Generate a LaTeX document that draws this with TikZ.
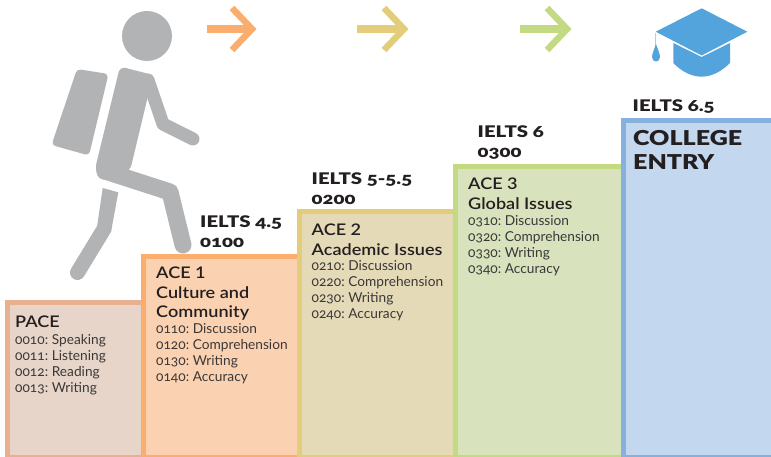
\documentclass[tikz,border=0pt]{standalone}
\usepackage{fontspec}
\setmainfont[Numbers=OldStyle]{Lato}
\newfontfamily\headfont[Numbers=OldStyle,FakeStretch=1.27]{Lato Black}
\newfontfamily\entryfont[FakeStretch=1.22]{Lato Black}
\newfontfamily\subfont[Numbers=Lining,FakeStretch=1.13]{Lato Semibold}
\newfontfamily\bodyfont[Numbers=OldStyle,WordSpace=0.7]{Lato}
\definecolor{pacestroke}{HTML}{E8B08E}\definecolor{pacefill}{HTML}{E7D5C9}
\definecolor{onestroke}{HTML}{FBAD6E}\definecolor{onefill}{HTML}{FBD2B1}
\definecolor{twostroke}{HTML}{E3CC7A}\definecolor{twofill}{HTML}{E5DAB7}
\definecolor{threestroke}{HTML}{C3DA82}\definecolor{threefill}{HTML}{D8E2BD}
\definecolor{fourstroke}{HTML}{86B0DE}\definecolor{fourfill}{HTML}{C3D8EE}
\definecolor{figgray}{HTML}{B1B3B4}\definecolor{capblue}{HTML}{53A4DC}\definecolor{tassel}{HTML}{A9D2EE}
\definecolor{ink}{HTML}{231F20}\definecolor{bodyink}{HTML}{3A3839}
\tikzset{
 x=1pt,y=-1pt,
 stepbox/.style={rectangle,line width=5pt,inner sep=0pt,outer sep=0pt,anchor=north west},
 subhead/.style={anchor=north west,inner sep=0pt,align=left,text=ink,font=\subfont\fontsize{16}{19.5}\selectfont},
 listing/.style={anchor=north west,inner sep=0pt,align=left,text=bodyink,font=\bodyfont\fontsize{13.7}{16}\selectfont},
 ielts/.style={anchor=north west,inner sep=0pt,align=left,text=ink,font=\headfont\fontsize{16}{19.5}\selectfont},
 entry/.style={anchor=north west,inner sep=0pt,align=left,text=ink,font=\entryfont\fontsize{20.5}{24}\selectfont},
 limb/.style={draw=figgray,line cap=round,line join=round},
 arrowline/.style={line width=7.5pt,line join=miter},
}
\begin{document}
\begin{tikzpicture}
\useasboundingbox (0,0) rectangle (771,457);
% steps
\node[stepbox,draw=pacestroke,fill=pacefill,minimum width=137pt,minimum height=155pt] (pacebox) at (7.5,302.5) {};
\node[stepbox,draw=onestroke,fill=onefill,minimum width=157pt,minimum height=201pt] (onebox) at (143.5,256.5) {};
\node[stepbox,draw=twostroke,fill=twofill,minimum width=157pt,minimum height=246pt] (twobox) at (299.5,211.5) {};
\node[stepbox,draw=threestroke,fill=threefill,minimum width=168pt,minimum height=291pt] (threebox) at (455.5,166.5) {};
\node[stepbox,draw=fourstroke,fill=fourfill,minimum width=160pt,minimum height=337pt] (fourbox) at (623.5,120.5) {};
% figure
\fill[figgray] (147,36) circle (25);
\fill[figgray,rounded corners=4pt] (77,69)--(108.5,74)--(89,155.5)--(51.5,145)--cycle;
\fill[figgray,rounded corners=6pt] (120,66.5)--(153,75)--(130,171)--(100,181)--(95,169)--cycle;
\draw[limb,line width=13pt] (148,80)--(163,124)--(193,139);
\draw[limb,line width=17pt] (105,171)--(170,192)--(183,245);
\fill[figgray] (102.7,188)--(118.3,192.3)--(111,232)--(97,227)--cycle;
\draw[limb,line width=15pt] (104,229)--(77.5,272.5);
% arrows
\draw[onestroke,arrowline] (207,29)--(250,29);
\draw[onestroke,line width=6.5pt] (232,8)--(252,29)--(232,50);
\draw[twostroke,arrowline] (357,29)--(402,29);
\draw[twostroke,line width=6.5pt] (384,8)--(404,29)--(384,50);
\draw[threestroke,arrowline] (520,29)--(565,29);
\draw[threestroke,line width=6.5pt] (547,8)--(567,29)--(547,50);
% cap
\fill[capblue] (655.7,31.7)--(701.7,8.3)--(747.3,31.7)--(701.7,55.5)--cycle;
\fill[capblue] (673.3,43)--(701.7,57)--(730,43)--(730,63) .. controls (722,71) and (712,76.7) .. (701.7,76.7) .. controls (691,76.7) and (681,71) .. (673.3,63)--cycle;
\draw[tassel,line width=1.3pt] (655.7,33)--(655.7,46);
\fill[capblue] (656,44) .. controls (658,50) and (660,54) .. (660,57) .. controls (660,60) and (658,61.5) .. (656,61.5) .. controls (654,61.5) and (652,60) .. (652,57) .. controls (652,54) and (654,50) .. (656,44)--cycle;
% labels
\node[subhead] (pacehead) at (15,316) {PACE};
\node[listing] (pacelist) at (15,334) {0010: Speaking\\0011: Listening\\0012: Reading\\0013: Writing};
\node[subhead] (onehead) at (156,267) {ACE 1\\Culture and\\Community};
\node[listing] (onelist) at (156,323) {0110: Discussion\\0120: Comprehension\\0130: Writing\\0140: Accuracy};
\node[subhead] (twohead) at (311.5,224) {ACE 2\\Academic Issues};
\node[listing] (twolist) at (311.5,260) {0210: Discussion\\0220: Comprehension\\0230: Writing\\0240: Accuracy};
\node[subhead] (threehead) at (468,178) {ACE 3\\Global Issues};
\node[listing] (threelist) at (468,215) {0310: Discussion\\0320: Comprehension\\0330: Writing\\0340: Accuracy};
\node[ielts] (ieltsone) at (200,216) {IELTS 4.5\\0100};
\node[ielts] (ieltstwo) at (311.5,173) {IELTS 5-5.5\\0200};
\node[ielts] (ieltsthree) at (477.5,126) {IELTS 6\\0300};
\node[ielts] (ieltsfour) at (632.5,100) {IELTS 6.5};
\node[entry] (college) at (633,130) {COLLEGE\\ENTRY};
\end{tikzpicture}
\end{document}
